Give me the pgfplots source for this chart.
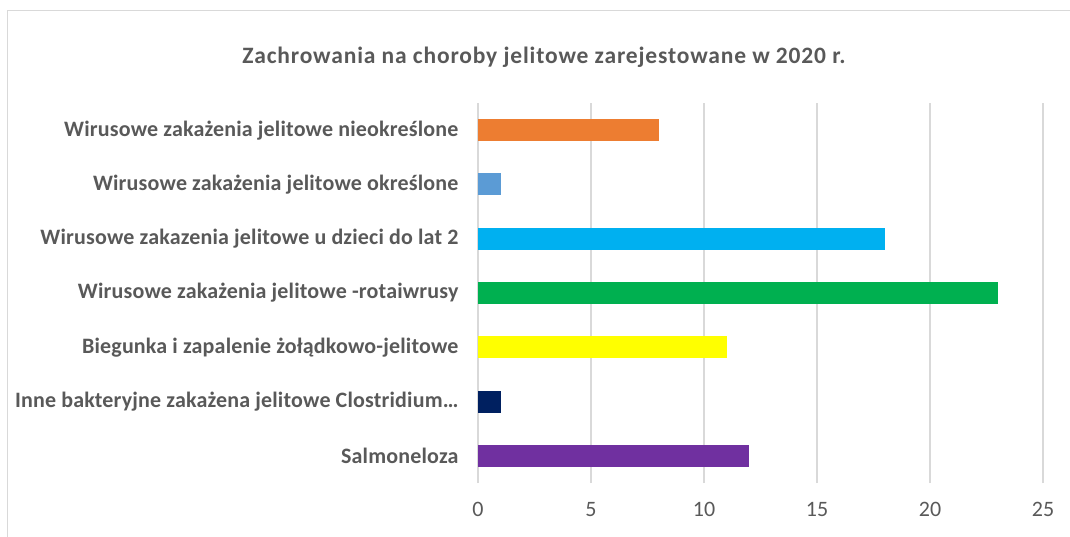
\documentclass[border=0pt]{standalone}
\usepackage{pgfplots}
\pgfplotsset{compat=1.18}
\usepackage{fontspec}
\setmainfont{Carlito}
\newfontfamily\titlefont[LetterSpace=3.6]{Carlito}
\newfontfamily\labelfont[LetterSpace=0.8]{Carlito}
\definecolor{txt}{HTML}{595959}
\definecolor{grd}{HTML}{D9D9D9}
\definecolor{c1}{HTML}{7030A0}
\definecolor{c2}{HTML}{002060}
\definecolor{c3}{HTML}{FFFF00}
\definecolor{c4}{HTML}{00B050}
\definecolor{c5}{HTML}{00B0F0}
\definecolor{c6}{HTML}{5B9BD5}
\definecolor{c7}{HTML}{ED7D31}
\begin{document}
\begin{tikzpicture}
\path[use as bounding box] (0pt,0pt) rectangle (1070pt,536pt);
\draw[grd, line width=1.2pt] (7.5pt,-5pt) -- (7.5pt,525.5pt) -- (1075pt,525.5pt);
\node[txt, font=\titlefont\fontsize{23.5}{27}\selectfont\bfseries] at (544pt,479pt) {Zachrowania na choroby jelitowe zarejestowane w 2020 r.};
\begin{axis}[
  at={(478pt,53pt)}, anchor=south west, scale only axis,
  width=565pt, height=380pt,
  xmin=0, xmax=25, ymin=-0.5, ymax=6.5,
  xtick={0,5,...,25}, ytick={0,...,6},
  yticklabels={Salmoneloza,
    Inne bakteryjne zakażena jelitowe Clostridium…,
    Biegunka i zapalenie żołądkowo-jelitowe,
    Wirusowe zakażenia jelitowe -rotaiwrusy,
    Wirusowe zakazenia jelitowe u dzieci do lat 2,
    Wirusowe zakażenia jelitowe określone,
    Wirusowe zakażenia jelitowe nieokreślone},
  axis line style={draw=none}, major tick length=0pt,
  xmajorgrids, grid style={grd, line width=1.5pt},
  xbar, bar width=22pt, bar shift=0pt,
  yticklabel style={font=\labelfont\fontsize{22}{26}\selectfont\bfseries, text=txt},
  xticklabel style={font=\fontsize{22}{26}\selectfont, text=txt},
  /pgf/number format/assume math mode=true,
  y tick label style={xshift=-16pt},
  x tick label style={yshift=-16pt},
]
\addplot[fill=c1, draw=none] coordinates {(12,0)};
\addplot[fill=c2, draw=none] coordinates {(1,1)};
\addplot[fill=c3, draw=none] coordinates {(11,2)};
\addplot[fill=c4, draw=none] coordinates {(23,3)};
\addplot[fill=c5, draw=none] coordinates {(18,4)};
\addplot[fill=c6, draw=none] coordinates {(1,5)};
\addplot[fill=c7, draw=none] coordinates {(8,6)};
\end{axis}
\end{tikzpicture}
\end{document}
